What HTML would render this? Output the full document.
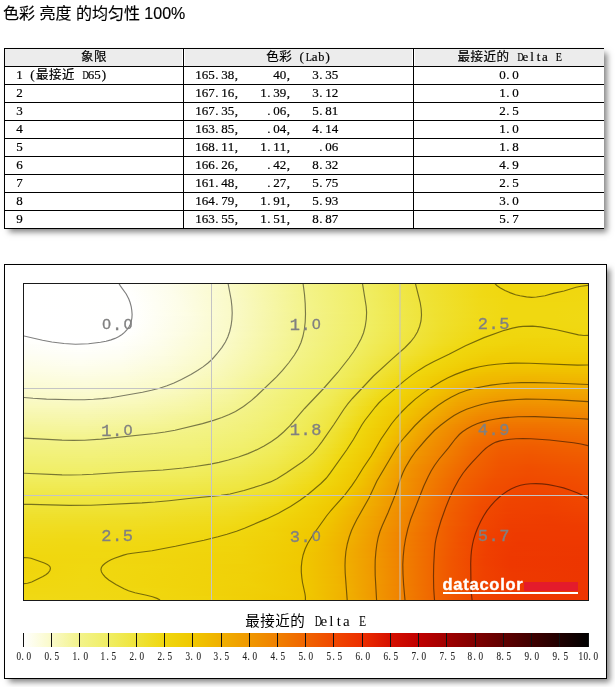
<!DOCTYPE html><html><head><meta charset="utf-8"><title>色彩 亮度 的均匀性 100%</title><style>
*{margin:0;padding:0;box-sizing:border-box}
html,body{width:615px;height:687px;background:#fff;overflow:hidden}
body{position:relative;font-family:"Liberation Sans","Noto Sans CJK SC",sans-serif;color:#000}
.a{position:absolute;white-space:pre}
#title{left:3px;top:3px;font-size:16px;line-height:22px;color:#000;-webkit-text-stroke:0.15px #000}
.hl{position:absolute;height:1px;background:#000}
.vl{position:absolute;width:1px;background:#000}
.hbg{position:absolute;top:49px;height:17px;background:#ececec}
.s{position:absolute;white-space:nowrap;font-family:"Liberation Serif",serif;font-size:13px;line-height:18px;color:#000;-webkit-text-stroke:0.2px #000}
.s i{display:inline-block;font-style:normal;width:6.5px;text-align:center}
.s i.p{text-align:left;text-indent:0.5px}
.s b{display:inline-block;font-weight:normal;width:13px;text-align:center;font-family:"Liberation Sans","Noto Sans CJK SC",sans-serif;font-size:12.5px}
.panel{position:absolute;left:4px;top:264px;width:603px;height:415px;border:1px solid #000;background:#fff;box-shadow:4px 4px 6px -1px rgba(0,0,0,.5)}
.plot{position:absolute;left:23px;top:283px;width:566px;height:318px;border:1px solid #1a1a1a;overflow:hidden;background:#fff}
.plot div{position:absolute;left:0;width:564px}
.ql{position:absolute;font-family:"Liberation Mono",monospace;font-size:17px;line-height:17px;color:#808080;white-space:nowrap;-webkit-text-stroke:0.35px #808080}
.ql i{display:inline-block;font-style:normal;width:10.75px;text-align:center}
.ql i.z{font-family:"Liberation Sans",sans-serif;font-size:15.5px;position:relative;top:-1px}
.cb{position:absolute;top:650px;font-family:"Liberation Serif",serif;font-size:11.5px;line-height:12px;color:#222;white-space:nowrap;-webkit-text-stroke:0.1px #222}
.cb i{display:inline-block;font-style:normal;width:5.2px;text-align:center;transform:scaleX(.8)}
.cb i.p{text-align:left}
.ax{position:absolute;left:245px;top:611px;white-space:nowrap;font-size:15px;line-height:20px;color:#000}
.ax b{display:inline-block;font-weight:normal;width:15px;text-align:center;font-family:"Liberation Sans","Noto Sans CJK SC",sans-serif;font-size:14.5px}
.ax i{display:inline-block;font-style:normal;width:7.5px;text-align:center;font-family:"Liberation Serif",serif;font-size:15px}
</style></head><body>
<div class="a" id="title">色彩 亮度 的均匀性 100%</div>
<div style="position:absolute;left:4px;top:48px;width:600px;height:181px;background:#fff;box-shadow:4px 4px 6px -1px rgba(0,0,0,.5)"></div>
<div class="hbg" style="left:5px;width:177px"></div>
<div class="hbg" style="left:185px;width:227px"></div>
<div class="hbg" style="left:415px;width:189px"></div>
<div class="hl" style="left:4px;top:48px;width:600px"></div>
<div class="hl" style="left:4px;top:66px;width:600px"></div>
<div class="hl" style="left:4px;top:84px;width:600px"></div>
<div class="hl" style="left:4px;top:102px;width:600px"></div>
<div class="hl" style="left:4px;top:120px;width:600px"></div>
<div class="hl" style="left:4px;top:138px;width:600px"></div>
<div class="hl" style="left:4px;top:156px;width:600px"></div>
<div class="hl" style="left:4px;top:174px;width:600px"></div>
<div class="hl" style="left:4px;top:192px;width:600px"></div>
<div class="hl" style="left:4px;top:210px;width:600px"></div>
<div class="hl" style="left:4px;top:228px;width:600px"></div>
<div class="vl" style="left:4px;top:48px;height:181px"></div>
<div class="vl" style="left:183px;top:48px;height:181px"></div>
<div class="vl" style="left:413px;top:48px;height:181px"></div>
<div class="s" style="left:80.80px;top:48px"><b>象</b><b>限</b></div>
<div class="s" style="left:266.00px;top:48px"><b>色</b><b>彩</b><i>&nbsp;</i><i>(</i><i><span style="display:inline-block;transform:scaleX(0.78)">L</span></i><i>a</i><i><span style="display:inline-block;transform:scaleX(0.95)">b</span></i><i>)</i></div>
<div class="s" style="left:457.20px;top:48px"><b>最</b><b>接</b><b>近</b><b>的</b><i>&nbsp;</i><i><span style="display:inline-block;transform:scaleX(0.66)">D</span></i><i>e</i><i>l</i><i>t</i><i>a</i><i>&nbsp;</i><i><span style="display:inline-block;transform:scaleX(0.78)">E</span></i></div>
<div class="s" style="left:16.20px;top:66px"><i>1</i><i>&nbsp;</i><i>(</i><b>最</b><b>接</b><b>近</b><i>&nbsp;</i><i><span style="display:inline-block;transform:scaleX(0.66)">D</span></i><i>6</i><i>5</i><i>)</i></div>
<div class="s" style="left:195.20px;top:66px"><i>1</i><i>6</i><i>5</i><i class="p">.</i><i>3</i><i>8</i><i class="p">,</i></div>
<div class="s" style="left:273.30px;top:66px"><i>4</i><i>0</i><i class="p">,</i></div>
<div class="s" style="left:312.30px;top:66px"><i>3</i><i class="p">.</i><i>3</i><i>5</i></div>
<div class="s" style="left:499.25px;top:66px"><i>0</i><i class="p">.</i><i>0</i></div>
<div class="s" style="left:16.20px;top:84px"><i>2</i></div>
<div class="s" style="left:195.20px;top:84px"><i>1</i><i>6</i><i>7</i><i class="p">.</i><i>1</i><i>6</i><i class="p">,</i></div>
<div class="s" style="left:260.30px;top:84px"><i>1</i><i class="p">.</i><i>3</i><i>9</i><i class="p">,</i></div>
<div class="s" style="left:312.30px;top:84px"><i>3</i><i class="p">.</i><i>1</i><i>2</i></div>
<div class="s" style="left:499.25px;top:84px"><i>1</i><i class="p">.</i><i>0</i></div>
<div class="s" style="left:16.20px;top:102px"><i>3</i></div>
<div class="s" style="left:195.20px;top:102px"><i>1</i><i>6</i><i>7</i><i class="p">.</i><i>3</i><i>5</i><i class="p">,</i></div>
<div class="s" style="left:266.80px;top:102px"><i class="p">.</i><i>0</i><i>6</i><i class="p">,</i></div>
<div class="s" style="left:312.30px;top:102px"><i>5</i><i class="p">.</i><i>8</i><i>1</i></div>
<div class="s" style="left:499.25px;top:102px"><i>2</i><i class="p">.</i><i>5</i></div>
<div class="s" style="left:16.20px;top:120px"><i>4</i></div>
<div class="s" style="left:195.20px;top:120px"><i>1</i><i>6</i><i>3</i><i class="p">.</i><i>8</i><i>5</i><i class="p">,</i></div>
<div class="s" style="left:266.80px;top:120px"><i class="p">.</i><i>0</i><i>4</i><i class="p">,</i></div>
<div class="s" style="left:312.30px;top:120px"><i>4</i><i class="p">.</i><i>1</i><i>4</i></div>
<div class="s" style="left:499.25px;top:120px"><i>1</i><i class="p">.</i><i>0</i></div>
<div class="s" style="left:16.20px;top:138px"><i>5</i></div>
<div class="s" style="left:195.20px;top:138px"><i>1</i><i>6</i><i>8</i><i class="p">.</i><i>1</i><i>1</i><i class="p">,</i></div>
<div class="s" style="left:260.30px;top:138px"><i>1</i><i class="p">.</i><i>1</i><i>1</i><i class="p">,</i></div>
<div class="s" style="left:318.80px;top:138px"><i class="p">.</i><i>0</i><i>6</i></div>
<div class="s" style="left:499.25px;top:138px"><i>1</i><i class="p">.</i><i>8</i></div>
<div class="s" style="left:16.20px;top:156px"><i>6</i></div>
<div class="s" style="left:195.20px;top:156px"><i>1</i><i>6</i><i>6</i><i class="p">.</i><i>2</i><i>6</i><i class="p">,</i></div>
<div class="s" style="left:266.80px;top:156px"><i class="p">.</i><i>4</i><i>2</i><i class="p">,</i></div>
<div class="s" style="left:312.30px;top:156px"><i>8</i><i class="p">.</i><i>3</i><i>2</i></div>
<div class="s" style="left:499.25px;top:156px"><i>4</i><i class="p">.</i><i>9</i></div>
<div class="s" style="left:16.20px;top:174px"><i>7</i></div>
<div class="s" style="left:195.20px;top:174px"><i>1</i><i>6</i><i>1</i><i class="p">.</i><i>4</i><i>8</i><i class="p">,</i></div>
<div class="s" style="left:266.80px;top:174px"><i class="p">.</i><i>2</i><i>7</i><i class="p">,</i></div>
<div class="s" style="left:312.30px;top:174px"><i>5</i><i class="p">.</i><i>7</i><i>5</i></div>
<div class="s" style="left:499.25px;top:174px"><i>2</i><i class="p">.</i><i>5</i></div>
<div class="s" style="left:16.20px;top:192px"><i>8</i></div>
<div class="s" style="left:195.20px;top:192px"><i>1</i><i>6</i><i>4</i><i class="p">.</i><i>7</i><i>9</i><i class="p">,</i></div>
<div class="s" style="left:260.30px;top:192px"><i>1</i><i class="p">.</i><i>9</i><i>1</i><i class="p">,</i></div>
<div class="s" style="left:312.30px;top:192px"><i>5</i><i class="p">.</i><i>9</i><i>3</i></div>
<div class="s" style="left:499.25px;top:192px"><i>3</i><i class="p">.</i><i>0</i></div>
<div class="s" style="left:16.20px;top:210px"><i>9</i></div>
<div class="s" style="left:195.20px;top:210px"><i>1</i><i>6</i><i>3</i><i class="p">.</i><i>5</i><i>5</i><i class="p">,</i></div>
<div class="s" style="left:260.30px;top:210px"><i>1</i><i class="p">.</i><i>5</i><i>1</i><i class="p">,</i></div>
<div class="s" style="left:312.30px;top:210px"><i>8</i><i class="p">.</i><i>8</i><i>7</i></div>
<div class="s" style="left:499.25px;top:210px"><i>5</i><i class="p">.</i><i>7</i></div>
<div class="panel"></div>
<div class="plot">
<div style="top:0px;height:2px;background:linear-gradient(90deg,#ffffff 0px,#fffffe 100px,#fefeef 140px,#fbfbd1 192px,#f6f6a7 246px,#f3f388 284px,#f0ed62 342px,#efe233 402px,#f0d811 462px,#f0d70e 478px,#f0d70e 564px)"></div>
<div style="top:2px;height:2px;background:linear-gradient(90deg,#ffffff 0px,#fffffe 102px,#fdfdee 142px,#fbfbce 196px,#f6f6a5 250px,#f3f388 284px,#f0ed61 342px,#efe234 402px,#f0d812 462px,#f0d70e 480px,#f0d70e 564px)"></div>
<div style="top:4px;height:2px;background:linear-gradient(90deg,#ffffff 0px,#fffffe 102px,#fdfdee 144px,#fafacd 198px,#f6f6a4 252px,#f3f388 284px,#f0ed62 342px,#efe234 402px,#f0d813 460px,#f0d70e 482px,#f0d70f 564px)"></div>
<div style="top:6px;height:2px;background:linear-gradient(90deg,#ffffff 0px,#fffffe 104px,#fdfdec 146px,#fafac8 206px,#f5f59a 262px,#f3f387 284px,#f0ed62 342px,#efe234 402px,#f0d914 460px,#f0d70e 484px,#f0d70f 564px)"></div>
<div style="top:8px;height:2px;background:linear-gradient(90deg,#ffffff 0px,#fffffe 106px,#fdfdeb 148px,#fafac6 208px,#f5f598 266px,#f3f388 284px,#f0ee62 342px,#efe234 402px,#f0d915 458px,#f0d70e 484px,#f0d710 564px)"></div>
<div style="top:10px;height:2px;background:linear-gradient(90deg,#ffffff 0px,#fffffe 106px,#fdfdeb 150px,#fafac5 210px,#f4f496 268px,#f3f388 284px,#f0ed62 344px,#efe234 404px,#f0d915 458px,#f0d70f 484px,#f0d710 550px,#f0d810 564px)"></div>
<div style="top:12px;height:2px;background:linear-gradient(90deg,#ffffff 0px,#fffffe 108px,#fdfdea 152px,#fafac4 212px,#f4f494 270px,#f3f387 286px,#f0ed62 344px,#efe234 404px,#f0d916 456px,#f0d70f 484px,#f0d70f 538px,#f0d811 564px)"></div>
<div style="top:14px;height:2px;background:linear-gradient(90deg,#ffffff 0px,#fffffe 108px,#fdfde9 154px,#f9f9c3 214px,#f4f493 272px,#f3f387 286px,#f0ed61 344px,#efe234 404px,#f0da17 456px,#f0d710 484px,#f0d70f 536px,#f0d811 564px)"></div>
<div style="top:16px;height:2px;background:linear-gradient(90deg,#ffffff 0px,#fffffe 108px,#fdfde9 154px,#f9f9c3 214px,#f4f492 272px,#f3f387 286px,#f0ed62 344px,#efe234 404px,#f0da18 456px,#f0d810 484px,#f0d710 532px,#f0d811 564px)"></div>
<div style="top:18px;height:2px;background:linear-gradient(90deg,#ffffff 0px,#fffffe 110px,#fdfde8 156px,#f9f9c2 216px,#f4f491 274px,#f3f386 288px,#f0ed61 346px,#efe234 406px,#f0da19 454px,#f0d810 484px,#f0d810 530px,#f0d812 564px)"></div>
<div style="top:20px;height:2px;background:linear-gradient(90deg,#ffffff 0px,#fffffe 110px,#fdfde8 156px,#f9f9c2 216px,#f4f490 274px,#f3f386 288px,#f0ed61 346px,#efe233 406px,#f0da19 454px,#f0d811 484px,#f0d810 530px,#f0d812 564px)"></div>
<div style="top:22px;height:2px;background:linear-gradient(90deg,#ffffff 0px,#fffffe 110px,#fdfde7 158px,#f9f9c2 216px,#f4f490 274px,#f3f387 288px,#f0ed61 346px,#efe234 406px,#f0da1a 454px,#f0d811 484px,#f0d810 528px,#f0d813 564px)"></div>
<div style="top:24px;height:2px;background:linear-gradient(90deg,#ffffff 0px,#fffffe 110px,#fdfde6 160px,#f9f9c2 216px,#f4f48f 276px,#f3f284 292px,#f0ed60 348px,#efe233 408px,#f0da1a 454px,#f0d811 484px,#f0d811 528px,#f0d813 564px)"></div>
<div style="top:26px;height:2px;background:linear-gradient(90deg,#ffffff 0px,#fffffe 110px,#fdfde5 160px,#f9f9c2 216px,#f4f48f 276px,#f3f284 292px,#f0ed60 348px,#efe232 408px,#f0db1a 454px,#f0d811 486px,#f0d811 530px,#f0d913 564px)"></div>
<div style="top:28px;height:2px;background:linear-gradient(90deg,#ffffff 0px,#fffffe 110px,#fdfde5 162px,#f9f9c2 216px,#f3f38e 278px,#f2f178 312px,#f0ec5a 356px,#efe130 412px,#f0da19 456px,#f0d811 488px,#f0d811 532px,#f0d913 564px)"></div>
<div style="top:30px;height:2px;background:linear-gradient(90deg,#ffffff 0px,#fffffe 110px,#fdfde4 164px,#f9f9c2 216px,#f3f38e 278px,#f0ed5f 348px,#efe131 410px,#f0db1a 454px,#f0d811 486px,#f0d811 530px,#f0d914 564px)"></div>
<div style="top:32px;height:2px;background:linear-gradient(90deg,#ffffff 0px,#fffffe 110px,#fcfce2 166px,#f9f9c2 216px,#f3f38d 278px,#f0ed60 348px,#efe130 412px,#f0db1a 454px,#f0d811 486px,#f0d811 530px,#f0d914 564px)"></div>
<div style="top:34px;height:2px;background:linear-gradient(90deg,#ffffff 0px,#fffffe 110px,#fcfce1 168px,#f9f9c1 216px,#f3f38d 278px,#f0ed60 348px,#efe12f 414px,#f0da19 454px,#f0d811 488px,#f0d811 532px,#f0d914 564px)"></div>
<div style="top:36px;height:2px;background:linear-gradient(90deg,#ffffff 0px,#fffffe 110px,#fcfce0 170px,#f9f9c1 216px,#f3f38c 280px,#f0ed61 346px,#efe02e 414px,#f0da19 454px,#f0d810 488px,#f0d811 534px,#f0d913 564px)"></div>
<div style="top:38px;height:2px;background:linear-gradient(90deg,#ffffff 0px,#fffffe 110px,#fcfcdf 170px,#f9f9c1 216px,#f3f388 286px,#f0ee63 344px,#efe02d 416px,#f0da18 456px,#f0d810 490px,#f0d811 536px,#f0d813 564px)"></div>
<div style="top:40px;height:2px;background:linear-gradient(90deg,#ffffff 0px,#fffffe 108px,#fcfce0 168px,#f9f9c2 216px,#f3f38b 280px,#f0ed62 344px,#efe02c 416px,#f0da17 456px,#f0d70f 490px,#f0d810 536px,#f0d813 564px)"></div>
<div style="top:42px;height:2px;background:linear-gradient(90deg,#ffffff 0px,#fffffe 108px,#fcfce0 168px,#f9f9c2 214px,#f3f38b 280px,#f0ee62 344px,#efdf2b 418px,#f0d916 456px,#f0d70e 490px,#f0d810 538px,#f0d812 564px)"></div>
<div style="top:44px;height:2px;background:linear-gradient(90deg,#ffffff 0px,#fffffe 106px,#fcfce0 166px,#f9f9c3 214px,#f3f38b 280px,#f0ee63 342px,#efdf2a 418px,#f0d916 456px,#f0d70e 488px,#f0d710 542px,#f0d811 564px)"></div>
<div style="top:46px;height:2px;background:linear-gradient(90deg,#ffffff 0px,#fffffe 106px,#fcfce1 164px,#f9f9c3 212px,#f3f38b 278px,#f0ee62 342px,#efdf28 418px,#f0d914 456px,#f0d70e 484px,#f0d70f 546px,#f0d811 564px)"></div>
<div style="top:48px;height:2px;background:linear-gradient(90deg,#ffffff 0px,#fffffe 104px,#fdfde4 158px,#fafac4 210px,#f3f38c 278px,#f0ed62 342px,#efde27 418px,#f0d813 456px,#f0d60e 480px,#f0d70f 550px,#f0d710 564px)"></div>
<div style="top:50px;height:2px;background:linear-gradient(90deg,#ffffff 0px,#fffffe 102px,#fdfde7 152px,#fafac4 210px,#f3f38c 278px,#f0ed62 342px,#efde26 418px,#f0d812 456px,#f0d60d 476px,#f0d70e 548px,#f0d70e 564px)"></div>
<div style="top:52px;height:2px;background:linear-gradient(90deg,#ffffff 0px,#fffffe 98px,#fdfdeb 142px,#fafac5 208px,#f3f38c 276px,#f0ed62 340px,#efde26 418px,#f0d810 456px,#f0d60d 474px,#f0d60d 544px,#f0d70e 564px)"></div>
<div style="top:54px;height:2px;background:linear-gradient(90deg,#fffffd 0px,#ffffff 42px,#fffffe 96px,#fdfdee 134px,#fafac7 204px,#f3f38d 274px,#f0ed61 340px,#efde24 418px,#f0d70e 456px,#f0d40b 510px,#f0d60d 564px)"></div>
<div style="top:56px;height:2px;background:linear-gradient(90deg,#fffffc 0px,#ffffff 36px,#fffffe 92px,#fefef1 126px,#fafac8 202px,#f4f490 270px,#f3f286 284px,#f0ee63 338px,#f0dd23 416px,#f0d70e 452px,#f0d30b 506px,#f0d50c 564px)"></div>
<div style="top:58px;height:2px;background:linear-gradient(90deg,#fffffb 0px,#ffffff 48px,#fffffd 88px,#fefef2 122px,#fafacb 196px,#f6f6a4 246px,#f3f387 282px,#f0ee64 336px,#f0dd22 416px,#f0d70e 448px,#f0d30a 500px,#f0d40c 564px)"></div>
<div style="top:60px;height:2px;background:linear-gradient(90deg,#fefef9 0px,#fffffe 54px,#fffffa 96px,#fdfdeb 136px,#fafac7 202px,#f4f48f 270px,#f2f281 292px,#f0ed60 338px,#f0dd21 414px,#f0d70e 446px,#f0d209 496px,#f0d40b 564px)"></div>
<div style="top:62px;height:2px;background:linear-gradient(90deg,#fefef8 0px,#fffffd 54px,#fefef9 96px,#fdfde9 136px,#fafac6 202px,#f4f490 268px,#f3f284 286px,#f0ee62 334px,#f0dc1f 414px,#f0d60e 442px,#f0d108 490px,#f0d30a 564px)"></div>
<div style="top:64px;height:2px;background:linear-gradient(90deg,#fefef7 0px,#fffffc 56px,#fefef8 96px,#fdfde8 136px,#fafac6 200px,#f4f493 264px,#f3f386 280px,#f0ee64 332px,#f0dc1e 412px,#f0d60d 438px,#f0d008 484px,#f0d209 564px)"></div>
<div style="top:66px;height:2px;background:linear-gradient(90deg,#fefef5 0px,#fffffa 56px,#fefef6 96px,#fdfde6 138px,#fafac6 198px,#f4f495 260px,#f3f387 278px,#f0ee65 328px,#f0db1b 412px,#f0d60d 434px,#f0d007 480px,#f0d108 564px)"></div>
<div style="top:68px;height:2px;background:linear-gradient(90deg,#fefef4 0px,#fefef9 56px,#fefef5 96px,#fdfde5 138px,#fafac5 198px,#f5f597 256px,#f3f387 276px,#f0ee66 326px,#f0da1a 412px,#f0d60d 430px,#f0cf06 474px,#f0cf07 564px)"></div>
<div style="top:70px;height:2px;background:linear-gradient(90deg,#fefef2 0px,#fefef7 56px,#fefef3 96px,#fdfde4 138px,#fafac5 196px,#f5f598 254px,#f3f387 276px,#f0ee67 324px,#f0da17 412px,#f0d60d 426px,#f0ce06 470px,#f0ce06 552px,#f0ce06 564px)"></div>
<div style="top:72px;height:2px;background:linear-gradient(90deg,#fefef0 0px,#fefef6 56px,#fefef2 96px,#fcfce2 138px,#fafac4 196px,#f5f598 252px,#f3f388 274px,#f0ef68 320px,#f0dd23 394px,#f0d70e 420px,#f0cd05 466px,#f0cd04 536px,#f0cd05 564px)"></div>
<div style="top:74px;height:2px;background:linear-gradient(90deg,#fefeef 0px,#fefef4 56px,#fefef0 96px,#fcfce0 140px,#fafac4 194px,#f5f59a 250px,#f3f387 272px,#f0ef69 318px,#efdf2a 384px,#f0d70e 416px,#f0cc04 464px,#f0cb03 530px,#f0cc04 564px)"></div>
<div style="top:76px;height:2px;background:linear-gradient(90deg,#fdfded 0px,#fefef2 56px,#fdfdee 96px,#fcfcde 142px,#f9f9c3 194px,#f5f59a 248px,#f3f388 270px,#f0ef6a 316px,#efe53f 360px,#f0d810 408px,#f0d30a 426px,#f0cb02 466px,#f0ca02 542px,#f0cb02 564px)"></div>
<div style="top:78px;height:2px;background:linear-gradient(90deg,#fdfdeb 0px,#fefef1 56px,#fdfdec 96px,#fcfcdd 142px,#f9f9c3 192px,#f5f59b 246px,#f3f387 270px,#f0ef6a 314px,#efe642 356px,#f0d70f 406px,#f0ca02 458px,#f0c800 514px,#f0c901 564px)"></div>
<div style="top:80px;height:2px;background:linear-gradient(90deg,#fdfdea 0px,#fefeef 56px,#fdfdea 96px,#fcfcdb 142px,#f9f9c1 192px,#f5f59b 244px,#f3f387 268px,#f0ef6a 312px,#efe849 346px,#f0d70e 404px,#f0c901 456px,#f0c600 504px,#f0c800 564px)"></div>
<div style="top:82px;height:2px;background:linear-gradient(90deg,#fdfde8 0px,#fdfded 58px,#fdfde8 98px,#fbfbd8 144px,#f9f9c0 192px,#f5f59c 240px,#f3f387 266px,#f0ef6a 310px,#efe94e 340px,#f0d70e 400px,#f0c800 456px,#f0c400 496px,#f0c600 564px)"></div>
<div style="top:84px;height:2px;background:linear-gradient(90deg,#fdfde6 0px,#fdfdeb 58px,#fdfde6 98px,#fbfbd6 146px,#f9f9bf 190px,#f5f59d 238px,#f3f387 264px,#f0ef6a 310px,#efe84d 340px,#f0d70e 398px,#f0c700 450px,#f0c200 490px,#f0c300 564px)"></div>
<div style="top:86px;height:2px;background:linear-gradient(90deg,#fdfde4 0px,#fdfde9 58px,#fdfde4 98px,#fbfbd5 146px,#f9f9be 190px,#f5f59d 236px,#f3f387 264px,#f0ef69 308px,#efe84c 338px,#f0d70e 394px,#f0c700 444px,#f0c000 480px,#f0c100 564px)"></div>
<div style="top:88px;height:2px;background:linear-gradient(90deg,#fcfce2 0px,#fdfde7 58px,#fcfce2 100px,#fbfbd2 146px,#f9f9bc 190px,#f5f59d 234px,#f3f387 262px,#f0ef6a 306px,#efe94e 334px,#f0d70e 392px,#f0c600 438px,#f0be00 470px,#f0bd00 520px,#f0bf00 564px)"></div>
<div style="top:90px;height:2px;background:linear-gradient(90deg,#fcfce0 0px,#fdfde5 58px,#fcfce0 100px,#fbfbd0 148px,#f8f8b9 194px,#f5f599 236px,#f3f387 260px,#f0ef6a 304px,#f0e950 332px,#f0d70e 388px,#f0c600 434px,#f0bd00 464px,#f0ba00 508px,#f0bc00 564px)"></div>
<div style="top:92px;height:2px;background:linear-gradient(90deg,#fcfcde 0px,#fcfce3 60px,#fcfcdd 100px,#fbfbcf 148px,#f8f8b5 196px,#f4f495 240px,#f3f387 258px,#f0ef69 304px,#efe94e 332px,#f0d60e 386px,#f0c600 428px,#f0bc00 458px,#f0b700 500px,#f0ba00 564px)"></div>
<div style="top:94px;height:2px;background:linear-gradient(90deg,#fcfcdc 0px,#fcfce0 60px,#fcfcdb 102px,#fafacc 148px,#f8f8b2 198px,#f4f492 240px,#f3f387 256px,#f0ef69 302px,#efe84d 330px,#f0d70e 384px,#f0c600 424px,#f0bb00 454px,#f0b500 496px,#f0b700 564px)"></div>
<div style="top:96px;height:2px;background:linear-gradient(90deg,#fcfcda 0px,#fcfcde 60px,#fcfcd9 102px,#fafaca 150px,#f7f7ae 202px,#f3f38e 244px,#f0ef68 302px,#efe84b 330px,#f0d60d 382px,#f0c600 422px,#f0b900 450px,#f0b200 494px,#f0b500 564px)"></div>
<div style="top:98px;height:2px;background:linear-gradient(90deg,#fbfbd8 0px,#fcfcdc 62px,#fbfbd6 104px,#fafac8 150px,#f7f7ab 204px,#f3f387 252px,#f0ef69 298px,#efe94e 326px,#f0d70e 378px,#f0c600 418px,#f0b800 446px,#f0b000 488px,#f0b200 564px)"></div>
<div style="top:100px;height:2px;background:linear-gradient(90deg,#fbfbd6 0px,#fcfcda 62px,#fbfbd3 106px,#fafac7 148px,#f7f7aa 204px,#f3f38b 242px,#f1ef6b 294px,#f0ea55 318px,#efe130 348px,#f0d60e 376px,#f0c600 414px,#f0b600 444px,#f0ad00 486px,#f0ae00 548px,#f0af00 564px)"></div>
<div style="top:102px;height:2px;background:linear-gradient(90deg,#fbfbd4 0px,#fbfbd7 64px,#fbfbd1 108px,#fafac5 148px,#f6f6a8 202px,#f3f38d 238px,#f0ef68 296px,#f0e950 320px,#efe02c 350px,#f0d70e 374px,#f0c600 410px,#f0b500 442px,#f0ab00 482px,#f0ab00 538px,#f0ad00 564px)"></div>
<div style="top:104px;height:2px;background:linear-gradient(90deg,#fbfbd2 0px,#fbfbd5 64px,#fbfbce 108px,#f9f9c3 146px,#f6f6a6 202px,#f3f38c 238px,#f0ef6a 292px,#f0ea55 314px,#efe130 344px,#f0d70e 372px,#f0c600 408px,#f0b300 440px,#f0a800 480px,#f0a800 532px,#f0aa00 564px)"></div>
<div style="top:106px;height:2px;background:linear-gradient(90deg,#fbfbd0 0px,#fbfbd3 64px,#fafacb 110px,#f9f9c0 148px,#f6f6a4 204px,#f3f387 244px,#f0ef69 290px,#f0ea54 314px,#efe12f 344px,#f0d70e 368px,#f0c600 404px,#f0b100 440px,#f0a600 478px,#f0a400 524px,#f0a700 564px)"></div>
<div style="top:108px;height:2px;background:linear-gradient(90deg,#fafacd 0px,#fbfbd0 66px,#fafac8 114px,#f9f9bb 154px,#f6f6a1 206px,#f3f387 242px,#f0ef69 288px,#f0ea54 312px,#efe12f 342px,#f0d70e 366px,#f0c600 402px,#f0af00 438px,#f0a300 476px,#f0a100 520px,#f0a400 564px)"></div>
<div style="top:110px;height:2px;background:linear-gradient(90deg,#fafacb 0px,#fbfbce 66px,#fafac6 112px,#f8f8b9 154px,#f5f59e 206px,#f3f386 240px,#f0ef69 286px,#f0ea54 310px,#efe12f 340px,#f0d70e 364px,#f0c600 400px,#f0ad00 438px,#f0a100 474px,#f09e00 514px,#f0a100 564px)"></div>
<div style="top:112px;height:2px;background:linear-gradient(90deg,#fafac9 0px,#fafacb 68px,#f9f9c4 110px,#f8f8b7 152px,#f5f59d 206px,#f3f286 240px,#f0ef68 286px,#f0ea54 308px,#efe12f 338px,#f0d70e 362px,#f0c600 396px,#f0ab00 436px,#f09f00 472px,#f09b00 510px,#f09f00 564px)"></div>
<div style="top:114px;height:2px;background:linear-gradient(90deg,#fafac6 0px,#fafac9 64px,#f9f9c2 106px,#f8f8b4 152px,#f5f59b 206px,#f3f285 238px,#f0ef68 284px,#f0ea53 308px,#efe02e 336px,#f0d70e 360px,#f0c600 394px,#f0a900 436px,#f09c00 470px,#f09800 506px,#f09c00 564px)"></div>
<div style="top:116px;height:2px;background:linear-gradient(90deg,#f9f9c3 0px,#fafac6 64px,#f9f9be 110px,#f7f7b1 154px,#f5f598 206px,#f3f285 236px,#f0ef69 280px,#f0ea53 306px,#efe131 332px,#f0d70e 358px,#f0c600 392px,#f0a700 434px,#f09a00 468px,#f09500 504px,#f09900 564px)"></div>
<div style="top:118px;height:2px;background:linear-gradient(90deg,#f9f9c0 0px,#f9f9c3 64px,#f9f9bb 112px,#f7f7ad 156px,#f4f495 208px,#f3f284 236px,#f0ef6a 278px,#f0ea54 304px,#efe234 328px,#f0d70e 356px,#f0c600 390px,#f0a400 434px,#f09700 468px,#f09300 504px,#f09600 564px)"></div>
<div style="top:120px;height:2px;background:linear-gradient(90deg,#f9f9be 0px,#f9f9c0 64px,#f8f8b8 112px,#f7f7ab 156px,#f4f493 208px,#f2f283 236px,#f0ef69 276px,#f0ea52 304px,#efe234 328px,#f0d70e 354px,#f0c600 388px,#f0a300 434px,#f09400 466px,#f09000 502px,#f09300 564px)"></div>
<div style="top:122px;height:2px;background:linear-gradient(90deg,#f9f9bb 0px,#f9f9bd 64px,#f8f8b5 114px,#f6f6a7 160px,#f4f490 210px,#f1f070 266px,#f0eb56 298px,#efe43b 320px,#f0d60d 352px,#f0c600 386px,#f0a000 434px,#f09200 466px,#f08d00 502px,#f09000 564px)"></div>
<div style="top:124px;height:2px;background:linear-gradient(90deg,#f8f8b8 0px,#f8f8ba 64px,#f7f7b1 118px,#f6f6a3 164px,#f3f38d 212px,#f1f073 260px,#f0eb58 294px,#efe53f 316px,#f0d70e 350px,#f0c600 382px,#f09e00 434px,#f08f00 464px,#f08a00 500px,#f08d00 564px)"></div>
<div style="top:126px;height:2px;background:linear-gradient(90deg,#f8f8b5 0px,#f8f8b7 62px,#f7f7af 116px,#f6f6a1 162px,#f3f38b 210px,#f1f075 254px,#f0ec5a 290px,#efe642 312px,#f0d70e 348px,#f0c600 380px,#f09c00 432px,#f08d00 462px,#f08800 496px,#f08b00 564px)"></div>
<div style="top:128px;height:2px;background:linear-gradient(90deg,#f7f7b2 0px,#f8f8b4 62px,#f7f7ab 120px,#f5f59c 168px,#f2f179 244px,#f0ed60 282px,#efe748 306px,#efdf2b 328px,#f0d60e 348px,#f0c600 380px,#f09900 432px,#f08b00 460px,#f08500 494px,#f08800 564px)"></div>
<div style="top:130px;height:2px;background:linear-gradient(90deg,#f7f7af 0px,#f7f7b1 62px,#f6f6a7 124px,#f4f496 176px,#f2f179 242px,#f0ed61 278px,#efe747 306px,#efe02c 326px,#f0d70e 346px,#f0c600 378px,#f09800 432px,#f08900 458px,#f08200 490px,#f08500 562px,#f08500 564px)"></div>
<div style="top:132px;height:2px;background:linear-gradient(90deg,#f7f7ac 0px,#f7f7af 62px,#f6f6a4 124px,#f4f493 176px,#f2f17a 238px,#f0ee63 274px,#efe748 304px,#efe12e 322px,#f0d60d 344px,#f0c600 376px,#f09600 430px,#f08700 456px,#f08000 488px,#f08200 548px,#f08300 564px)"></div>
<div style="top:134px;height:2px;background:linear-gradient(90deg,#f6f6a9 0px,#f7f7ab 62px,#f6f6a1 126px,#f3f38e 184px,#f2f17b 234px,#f0ee64 272px,#efe749 302px,#efe131 320px,#f0d70e 342px,#f0c600 374px,#f09400 430px,#f08500 456px,#f07d00 490px,#f07f00 548px,#f08000 564px)"></div>
<div style="top:136px;height:2px;background:linear-gradient(90deg,#f6f6a6 0px,#f6f6a8 62px,#f5f59d 130px,#f2f17d 228px,#f0ef68 264px,#efe84c 296px,#efe335 316px,#f0d60e 342px,#f0c500 372px,#f09400 428px,#f08300 454px,#f07b00 484px,#f07b00 530px,#f07e00 564px)"></div>
<div style="top:138px;height:2px;background:linear-gradient(90deg,#f6f6a2 0px,#f6f6a5 62px,#f5f599 134px,#f2f17c 226px,#f0ee67 264px,#efe84c 296px,#efe235 314px,#f0d70e 340px,#f0c600 370px,#f09300 426px,#f08200 452px,#f07800 480px,#f07700 520px,#f07b00 564px)"></div>
<div style="top:140px;height:2px;background:linear-gradient(90deg,#f5f59f 0px,#f6f6a2 62px,#f4f495 138px,#f3f284 198px,#f1f075 238px,#f0ed60 272px,#efe745 300px,#efe12e 318px,#f0d70e 338px,#f0c600 368px,#f09300 422px,#f08000 450px,#f07600 476px,#f07400 512px,#f07900 564px)"></div>
<div style="top:142px;height:2px;background:linear-gradient(90deg,#f5f59c 0px,#f5f59f 60px,#f4f492 140px,#f3f284 194px,#f1f076 234px,#f0ed62 268px,#efe747 298px,#efe12f 316px,#f0d70e 338px,#f0c600 368px,#f09300 420px,#f07e00 450px,#f07400 474px,#f07200 510px,#f07600 564px)"></div>
<div style="top:144px;height:2px;background:linear-gradient(90deg,#f5f599 0px,#f5f59c 60px,#f3f38e 144px,#f2f17b 218px,#f0ef69 256px,#f0e950 286px,#efe338 308px,#f0d60d 336px,#f0c500 366px,#f09300 418px,#f07b00 450px,#f07100 474px,#f06f00 510px,#f07400 564px)"></div>
<div style="top:146px;height:2px;background:linear-gradient(90deg,#f4f496 0px,#f5f599 60px,#f3f388 158px,#f2f17a 216px,#f0ef68 254px,#f0e951 284px,#efe439 306px,#f0d60d 336px,#f0c600 364px,#f09200 416px,#f07900 450px,#f06f00 476px,#f06d00 512px,#f07200 564px)"></div>
<div style="top:148px;height:2px;background:linear-gradient(90deg,#f4f492 0px,#f4f496 60px,#f2f27f 192px,#f1f071 234px,#f0ed5f 266px,#efe746 294px,#efe02e 312px,#f0d70e 334px,#f0c600 364px,#f09200 414px,#f07600 452px,#f06c00 476px,#f06a00 512px,#f07000 564px)"></div>
<div style="top:150px;height:2px;background:linear-gradient(90deg,#f4f48f 0px,#f4f492 60px,#f2f27f 184px,#f1f072 228px,#f0ed60 262px,#efe747 292px,#efe12f 310px,#f0d70e 332px,#f0c600 362px,#f09300 412px,#f07500 450px,#f06a00 476px,#f06800 510px,#f06e00 564px)"></div>
<div style="top:152px;height:2px;background:linear-gradient(90deg,#f3f38c 0px,#f4f48f 60px,#f2f27f 176px,#f1f073 224px,#f0ed62 258px,#efe748 288px,#efe130 308px,#f0d70e 332px,#f0c600 360px,#f09300 410px,#f07300 450px,#f06800 476px,#f06600 510px,#f06c00 564px)"></div>
<div style="top:154px;height:2px;background:linear-gradient(90deg,#f3f389 0px,#f3f38c 62px,#f2f27f 168px,#f1f073 218px,#f0ed62 254px,#efe849 286px,#efe232 306px,#f0d70e 330px,#f0c600 360px,#f09500 406px,#f07100 450px,#f06600 476px,#f06400 510px,#f06a00 564px)"></div>
<div style="top:156px;height:2px;background:linear-gradient(90deg,#f3f387 0px,#f3f389 70px,#f2f17d 168px,#f1f071 218px,#f0ed61 254px,#efe747 286px,#efe130 306px,#f0d60d 330px,#f0c600 358px,#f09600 402px,#f07000 450px,#f06400 476px,#f06200 510px,#f06800 564px)"></div>
<div style="top:158px;height:2px;background:linear-gradient(90deg,#f3f285 0px,#f3f387 68px,#f2f17c 168px,#f1f06f 218px,#f0ed60 252px,#efe746 286px,#efe131 304px,#f0d70e 328px,#f0c600 356px,#f09800 398px,#f06e00 450px,#f06200 476px,#f06000 508px,#f06600 564px)"></div>
<div style="top:160px;height:2px;background:linear-gradient(90deg,#f2f283 0px,#f3f285 68px,#f2f17a 170px,#f1ef6d 220px,#f0ed5e 252px,#efe746 284px,#efe131 302px,#f0d70e 326px,#f0c600 356px,#f09900 396px,#f06d00 450px,#f06100 476px,#f05e00 508px,#f06400 564px)"></div>
<div style="top:162px;height:2px;background:linear-gradient(90deg,#f2f281 0px,#f2f283 68px,#f2f178 170px,#f1ef6c 220px,#f0ec5d 250px,#efe644 284px,#efe130 302px,#f0d70e 326px,#f0c700 354px,#f09900 394px,#f06b00 450px,#f05f00 476px,#f05c00 508px,#f06300 564px)"></div>
<div style="top:164px;height:2px;background:linear-gradient(90deg,#f2f27f 0px,#f2f281 68px,#f1f076 172px,#f0ef69 220px,#f0ec5b 252px,#efe641 286px,#efe02d 302px,#f0d60d 324px,#f0c700 352px,#f09800 394px,#f06a00 450px,#f05e00 476px,#f05b00 506px,#f06100 564px)"></div>
<div style="top:166px;height:2px;background:linear-gradient(90deg,#f2f17d 0px,#f2f17e 68px,#f1f074 172px,#f0ee68 220px,#f0eb58 252px,#efe53f 286px,#efdf2b 302px,#f0d70e 322px,#f0c700 352px,#f09700 392px,#f06900 450px,#f05c00 476px,#f05900 508px,#f06000 564px)"></div>
<div style="top:168px;height:2px;background:linear-gradient(90deg,#f2f17b 0px,#f2f17c 68px,#f1f072 172px,#f0ee66 220px,#f0eb55 254px,#efe53c 286px,#efde24 306px,#f0d70e 322px,#f0c600 350px,#f09700 392px,#f06800 450px,#f05b00 476px,#f05800 506px,#f05e00 564px)"></div>
<div style="top:170px;height:2px;background:linear-gradient(90deg,#f2f178 0px,#f2f17a 68px,#f1f070 172px,#f0ee64 220px,#f0ea53 254px,#efe43a 286px,#f0dc21 306px,#f0d60d 320px,#f0c600 350px,#f09600 392px,#f06700 450px,#f05a00 476px,#f05600 506px,#f05d00 564px)"></div>
<div style="top:172px;height:2px;background:linear-gradient(90deg,#f1f076 0px,#f2f178 66px,#f1ef6e 172px,#f0ee63 218px,#f0ea52 252px,#efe439 286px,#f0dc20 306px,#f0d70e 318px,#f0c600 348px,#f09500 390px,#f06700 448px,#f05900 476px,#f05500 506px,#f05b00 562px,#f05c00 564px)"></div>
<div style="top:174px;height:2px;background:linear-gradient(90deg,#f1f074 0px,#f1f076 66px,#f1ef6c 172px,#f0ed61 216px,#f0e951 252px,#efe337 286px,#f0dc1e 306px,#f0d60d 318px,#f0c600 348px,#f09500 390px,#f06600 448px,#f05800 476px,#f05400 506px,#f05a00 562px,#f05a00 564px)"></div>
<div style="top:176px;height:2px;background:linear-gradient(90deg,#f1f072 0px,#f1f074 66px,#f0ef6a 172px,#f0ed60 214px,#f0e94f 250px,#efe336 284px,#f0db1d 304px,#f0d70e 316px,#f0c600 346px,#f09400 390px,#f06500 448px,#f05600 476px,#f05300 506px,#f05900 562px,#f05900 564px)"></div>
<div style="top:178px;height:2px;background:linear-gradient(90deg,#f1f070 0px,#f1f071 66px,#f0ee68 172px,#f0ec5e 214px,#efe94e 250px,#efe233 284px,#f0db1b 304px,#f0d60e 314px,#f0c600 344px,#f09300 390px,#f06500 446px,#f05500 476px,#f05200 506px,#f05700 560px,#f05800 564px)"></div>
<div style="top:180px;height:2px;background:linear-gradient(90deg,#f1ef6e 0px,#f1ef6f 66px,#f0ee66 170px,#f0ec5b 214px,#efe84b 250px,#efe131 284px,#f0da19 304px,#f0d70e 312px,#f0c700 342px,#f09200 388px,#f06400 446px,#f05500 476px,#f05000 504px,#f05500 556px,#f05700 564px)"></div>
<div style="top:182px;height:2px;background:linear-gradient(90deg,#f1ef6b 0px,#f1ef6d 66px,#f0ee64 170px,#f0eb58 216px,#efe748 252px,#efe12e 284px,#f0da17 304px,#f0d70e 312px,#f0c600 342px,#f09100 388px,#f06300 446px,#f05400 476px,#f04f00 504px,#f05400 556px,#f05600 564px)"></div>
<div style="top:184px;height:2px;background:linear-gradient(90deg,#f0ef69 0px,#f1ef6a 66px,#f0ed62 166px,#f0eb56 214px,#efe746 250px,#efe02d 284px,#f0d916 304px,#f0d60d 310px,#f0c700 340px,#f09000 388px,#f06300 444px,#f05300 476px,#f04e00 506px,#f05300 556px,#f05500 564px)"></div>
<div style="top:186px;height:2px;background:linear-gradient(90deg,#f0ee67 0px,#f0ef68 66px,#f0ed5f 166px,#f0ea54 214px,#efe644 250px,#efdf2b 284px,#f0d812 304px,#f0d60d 310px,#f0c700 338px,#f08f00 388px,#f06200 444px,#f05200 474px,#f04d00 504px,#f05200 554px,#f05400 564px)"></div>
<div style="top:188px;height:2px;background:linear-gradient(90deg,#f0ee64 0px,#f0ee66 66px,#f0ec5c 166px,#f0ea52 214px,#efe642 250px,#efde27 284px,#f0d60d 308px,#f0c600 338px,#f08f00 388px,#f06100 444px,#f05200 474px,#f04d00 504px,#f05100 554px,#f05300 564px)"></div>
<div style="top:190px;height:2px;background:linear-gradient(90deg,#f0ed62 0px,#f0ee63 64px,#f0ec5a 168px,#efe94f 216px,#efe53f 252px,#f0dd24 286px,#f0d60d 306px,#f0c600 336px,#f08f00 388px,#f06100 442px,#f05100 474px,#f04c00 504px,#f05000 552px,#f05200 564px)"></div>
<div style="top:192px;height:2px;background:linear-gradient(90deg,#f0ed5f 0px,#f0ed61 64px,#f0eb57 168px,#efe84c 216px,#efe53d 252px,#f0dc21 286px,#f0d60d 304px,#f0c600 336px,#f08e00 388px,#f06000 442px,#f05100 472px,#f04b00 502px,#f04e00 550px,#f05100 564px)"></div>
<div style="top:194px;height:2px;background:linear-gradient(90deg,#f0ec5c 0px,#f0ed5e 64px,#f0ea54 168px,#efe84a 216px,#efe43b 252px,#f0dc1e 286px,#f0d60d 304px,#f0c600 334px,#f08c00 388px,#f06000 440px,#f05000 470px,#f04a00 500px,#f04d00 548px,#f05000 564px)"></div>
<div style="top:196px;height:2px;background:linear-gradient(90deg,#f0ec5a 0px,#f0ec5b 64px,#f0ea52 166px,#efe748 214px,#efe338 252px,#f0db1c 286px,#f0d60d 302px,#f0c700 332px,#f08b00 388px,#f06000 440px,#f05000 470px,#f04900 500px,#f04c00 546px,#f04f00 564px)"></div>
<div style="top:198px;height:2px;background:linear-gradient(90deg,#f0eb57 0px,#f0eb58 64px,#efe94f 166px,#efe745 214px,#efe336 252px,#f0db1a 286px,#f0d60d 300px,#f0c600 332px,#f08a00 390px,#f06000 438px,#f05000 468px,#f04900 498px,#f04b00 544px,#f04e00 564px)"></div>
<div style="top:200px;height:2px;background:linear-gradient(90deg,#f0ea54 0px,#f0eb56 66px,#efe84c 166px,#efe643 214px,#efe234 250px,#f0da19 284px,#f0d60d 298px,#f0c700 330px,#f08700 392px,#f05f00 438px,#f04f00 468px,#f04800 498px,#f04a00 544px,#f04d00 564px)"></div>
<div style="top:202px;height:2px;background:linear-gradient(90deg,#f0ea51 0px,#f0ea53 66px,#efe849 166px,#efe641 214px,#efe131 250px,#f0da17 284px,#f0d60d 294px,#f0c700 328px,#f08500 394px,#f05f00 438px,#f04f00 466px,#f04700 496px,#f04900 542px,#f04c00 564px)"></div>
<div style="top:204px;height:2px;background:linear-gradient(90deg,#efe94e 0px,#f0e950 68px,#efe747 164px,#efe53e 214px,#efe02e 252px,#f0d915 284px,#f0d60d 292px,#f0c700 326px,#f08200 396px,#f05f00 436px,#f04e00 466px,#f04700 496px,#f04800 540px,#f04b00 564px)"></div>
<div style="top:206px;height:2px;background:linear-gradient(90deg,#efe84c 0px,#efe94d 68px,#efe644 162px,#efe43c 212px,#efe02b 252px,#f0d813 284px,#f0d60d 292px,#f0c700 326px,#f07600 408px,#f05b00 442px,#f04c00 470px,#f04600 502px,#f04800 550px,#f04b00 564px)"></div>
<div style="top:208px;height:2px;background:linear-gradient(90deg,#efe849 0px,#efe84a 70px,#efe642 162px,#efe439 212px,#efdf29 252px,#f0d811 282px,#f0d50c 292px,#f0c600 324px,#f06d00 418px,#f05500 448px,#f04900 478px,#ef4500 512px,#f04900 560px,#f04a00 564px)"></div>
<div style="top:210px;height:2px;background:linear-gradient(90deg,#efe746 0px,#efe747 70px,#efe53f 162px,#efe337 212px,#efde26 252px,#f0d60d 286px,#f0c700 322px,#f06700 424px,#f05200 454px,#f04700 482px,#ef4400 520px,#f04900 564px)"></div>
<div style="top:212px;height:2px;background:linear-gradient(90deg,#efe643 0px,#efe745 72px,#efe53d 160px,#efe234 212px,#f0dd23 252px,#f0d60d 284px,#f0c600 322px,#f06400 426px,#f05000 456px,#f04600 486px,#ef4300 524px,#f04800 564px)"></div>
<div style="top:214px;height:2px;background:linear-gradient(90deg,#efe641 0px,#efe642 74px,#efe43a 160px,#efe232 212px,#f0dd21 252px,#f0d60d 280px,#f0c600 320px,#f08d00 380px,#f06000 430px,#f04d00 460px,#ef4400 488px,#ef4300 528px,#f04800 564px)"></div>
<div style="top:216px;height:2px;background:linear-gradient(90deg,#efe53e 0px,#efe53f 76px,#efe338 158px,#efe12f 212px,#f0dc1e 252px,#f0d60d 278px,#f0c700 318px,#f09800 368px,#f06200 426px,#f04e00 458px,#ef4400 486px,#ef4200 524px,#f04700 564px)"></div>
<div style="top:218px;height:2px;background:linear-gradient(90deg,#efe43c 0px,#efe53c 80px,#efe335 158px,#efe02c 212px,#f0db1b 252px,#f0d60d 276px,#f0c700 316px,#f0a100 358px,#f06200 426px,#f04e00 456px,#ef4400 484px,#ef4100 522px,#f04600 564px)"></div>
<div style="top:220px;height:2px;background:linear-gradient(90deg,#efe439 0px,#efe43a 84px,#efe232 162px,#efdf2a 212px,#f0da19 252px,#f0d60d 272px,#f0c700 314px,#f0a500 354px,#f06200 424px,#f04d00 456px,#ef4300 484px,#ef4100 522px,#f04500 564px)"></div>
<div style="top:222px;height:2px;background:linear-gradient(90deg,#efe337 0px,#efe337 88px,#efe12f 164px,#efde27 212px,#f0d916 252px,#f0d60d 268px,#f0c800 310px,#f0aa00 346px,#f06200 424px,#f04c00 456px,#ef4300 484px,#ef4000 524px,#ef4500 564px)"></div>
<div style="top:224px;height:2px;background:linear-gradient(90deg,#efe234 0px,#efe234 92px,#efe02c 174px,#f0dd24 216px,#f0d812 256px,#f0d60d 268px,#f0c800 308px,#f0ab00 344px,#f06100 424px,#f04c00 456px,#ef4200 484px,#ef4000 524px,#ef4400 564px)"></div>
<div style="top:226px;height:2px;background:linear-gradient(90deg,#efe232 0px,#efe131 98px,#efde27 192px,#f0dc1d 226px,#f0d60d 264px,#f0c800 306px,#f0ac00 342px,#f06100 424px,#f04b00 456px,#ef4100 484px,#ef3f00 524px,#ef4300 564px)"></div>
<div style="top:228px;height:2px;background:linear-gradient(90deg,#efe130 0px,#efe12e 104px,#f0dd23 200px,#f0d916 238px,#f0d60d 260px,#f0c901 302px,#f0b300 334px,#f07e00 390px,#f05b00 430px,#f04800 462px,#ef4000 492px,#ef3f00 538px,#ef4200 564px)"></div>
<div style="top:230px;height:2px;background:linear-gradient(90deg,#efe02d 0px,#efe02c 110px,#f0dc20 206px,#f0d810 246px,#f0cc04 292px,#f0c500 308px,#f0a400 350px,#f06100 422px,#f04a00 456px,#ef4000 484px,#ee3e00 522px,#ef4100 564px)"></div>
<div style="top:232px;height:2px;background:linear-gradient(90deg,#efe02b 0px,#efdf29 114px,#f0db1d 206px,#f0d60d 252px,#f0ca02 298px,#f0bc00 318px,#f08d00 374px,#f06100 422px,#f04900 456px,#ef4000 484px,#ee3d00 526px,#ef4000 564px)"></div>
<div style="top:234px;height:2px;background:linear-gradient(90deg,#efdf29 0px,#efde27 118px,#f0db1b 206px,#f0d60d 248px,#f0ca02 294px,#f0c300 308px,#f09d00 356px,#f06100 422px,#f04900 456px,#ef3f00 484px,#ee3d00 524px,#ef3f00 564px)"></div>
<div style="top:236px;height:2px;background:linear-gradient(90deg,#efde27 0px,#efde26 56px,#f0dd23 136px,#f0da18 210px,#f0d60d 244px,#f0cb03 292px,#f0c400 306px,#f0a000 350px,#f05f00 422px,#f04800 456px,#ef3e00 484px,#ee3c00 526px,#ef3f00 564px)"></div>
<div style="top:238px;height:2px;background:linear-gradient(90deg,#efde25 0px,#efde24 50px,#f0dd22 122px,#f0da17 206px,#f0d60d 240px,#f0cb03 290px,#f0c400 304px,#f0a200 348px,#f05e00 424px,#f04700 458px,#ee3e00 486px,#ee3c00 530px,#ee3e00 564px)"></div>
<div style="top:240px;height:2px;background:linear-gradient(90deg,#f0dd23 0px,#f0dd22 48px,#f0dd21 114px,#f0d916 204px,#f0d60d 238px,#f0cb03 288px,#f0c300 304px,#f0a100 348px,#f05e00 424px,#f04700 458px,#ee3d00 484px,#ee3b00 528px,#ee3d00 564px)"></div>
<div style="top:242px;height:2px;background:linear-gradient(90deg,#f0dd22 0px,#f0dc20 46px,#f0dc20 106px,#f0d915 196px,#f0d50d 236px,#f0cb03 286px,#f0c400 302px,#f0a200 346px,#f05c00 424px,#f04600 458px,#ee3d00 486px,#ee3b00 532px,#ee3c00 564px)"></div>
<div style="top:244px;height:2px;background:linear-gradient(90deg,#f0dc20 0px,#f0dc1e 46px,#f0dc1e 100px,#f0d915 188px,#f0d50c 234px,#f0ca02 286px,#f0c200 304px,#f09f00 348px,#f05c00 424px,#f04500 458px,#ee3c00 486px,#ee3b00 536px,#ee3c00 564px)"></div>
<div style="top:246px;height:2px;background:linear-gradient(90deg,#f0dc1e 0px,#f0db1c 44px,#f0db1c 96px,#f0d914 182px,#f0d40b 236px,#f0c901 288px,#f0ba00 314px,#f08f00 366px,#f05c00 424px,#ef4500 458px,#ee3c00 484px,#ee3a00 534px,#ee3b00 564px)"></div>
<div style="top:248px;height:2px;background:linear-gradient(90deg,#f0db1d 0px,#f0da1a 44px,#f0db1b 92px,#f0d913 176px,#f0d209 248px,#f0c700 292px,#f0ae00 328px,#f07600 392px,#f05200 436px,#ef4100 466px,#ee3a00 492px,#ee3a00 564px)"></div>
<div style="top:250px;height:2px;background:linear-gradient(90deg,#f0db1b 0px,#f0da18 44px,#f0da19 90px,#f0d812 176px,#f0d209 248px,#f0c700 292px,#f0af00 328px,#f07600 392px,#f05200 436px,#ef4000 466px,#ee3a00 492px,#ee3a00 564px)"></div>
<div style="top:252px;height:2px;background:linear-gradient(90deg,#f0da1a 0px,#f0da17 42px,#f0da18 86px,#f0d811 174px,#f0d109 248px,#f0c700 290px,#f0af00 326px,#f07700 392px,#f05300 434px,#ef4000 464px,#ee3a00 490px,#ee3900 564px)"></div>
<div style="top:254px;height:2px;background:linear-gradient(90deg,#f0da18 0px,#f0d915 42px,#f0da17 86px,#f0d70f 176px,#f0d108 250px,#f0c600 290px,#f0b000 324px,#f07800 390px,#f05500 432px,#ef4100 462px,#ee3a00 488px,#ee3900 564px)"></div>
<div style="top:256px;height:2px;background:linear-gradient(90deg,#f0da17 0px,#f0d914 42px,#f0d916 84px,#f0d40c 216px,#f0cb03 274px,#f0c400 294px,#f0ac00 330px,#f07300 394px,#f05000 438px,#ef3e00 468px,#ee3900 496px,#ee3800 564px)"></div>
<div style="top:258px;height:2px;background:linear-gradient(90deg,#f0d916 0px,#f0d913 44px,#f0d914 86px,#f0d40b 216px,#f0cb02 274px,#f0c300 294px,#f0ab00 330px,#f07400 394px,#f05000 436px,#ee3e00 468px,#ee3800 496px,#ee3800 564px)"></div>
<div style="top:260px;height:2px;background:linear-gradient(90deg,#f0d914 0px,#f0d813 44px,#f0d913 86px,#f0d40b 218px,#f0ca02 274px,#f0c200 294px,#f0aa00 330px,#f07300 394px,#f04f00 438px,#ee3d00 468px,#ee3800 498px,#ed3800 564px)"></div>
<div style="top:262px;height:2px;background:linear-gradient(90deg,#f0d913 0px,#f0d812 46px,#f0d812 88px,#f0d30a 218px,#f0ca02 276px,#f0be00 302px,#f0a200 340px,#f05700 428px,#ef4000 462px,#ee3900 484px,#ed3700 564px)"></div>
<div style="top:264px;height:2px;background:linear-gradient(90deg,#f0d812 0px,#f0d811 48px,#f0d811 92px,#f0d30a 220px,#f0ca01 276px,#f0bc00 304px,#f09e00 344px,#f05600 428px,#ef4000 462px,#ee3900 484px,#ed3700 564px)"></div>
<div style="top:266px;height:2px;background:linear-gradient(90deg,#f0d811 0px,#f0d811 50px,#f0d40b 206px,#f0cb03 268px,#f0c400 290px,#f0ae00 324px,#f07900 386px,#f05300 432px,#ef3f00 464px,#ee3800 490px,#ed3700 564px)"></div>
<div style="top:268px;height:2px;background:linear-gradient(90deg,#f0d810 0px,#f0d810 84px,#f0d20a 220px,#f0c901 276px,#f0b900 308px,#f09900 350px,#f05600 428px,#ef4000 462px,#ee3900 486px,#ed3700 564px)"></div>
<div style="top:270px;height:2px;background:linear-gradient(90deg,#f0d70f 0px,#f0d810 80px,#f0d209 218px,#f0c901 276px,#f0b900 308px,#f09b00 348px,#f05600 428px,#ef4000 460px,#ee3900 484px,#ed3700 564px)"></div>
<div style="top:272px;height:2px;background:linear-gradient(90deg,#f0d70e 0px,#f0d810 74px,#f0d209 218px,#f0c901 276px,#f0b900 308px,#f09a00 348px,#f05500 428px,#ef4000 462px,#ee3800 486px,#ed3600 564px)"></div>
<div style="top:274px;height:2px;background:linear-gradient(90deg,#f0d70e 0px,#f0d710 70px,#f0d209 218px,#f0c901 276px,#f0b900 308px,#f09a00 350px,#f05500 428px,#ef4000 460px,#ee3800 486px,#ed3600 564px)"></div>
<div style="top:276px;height:2px;background:linear-gradient(90deg,#f0d60d 0px,#f0d710 68px,#f0d209 216px,#f0c901 276px,#f0b800 308px,#f09900 350px,#f05500 428px,#ef4000 460px,#ee3800 486px,#ed3600 564px)"></div>
<div style="top:278px;height:2px;background:linear-gradient(90deg,#f0d60d 0px,#f0d710 66px,#f0d209 216px,#f0c900 276px,#f0b800 308px,#f09900 350px,#f05500 428px,#ef4000 460px,#ee3800 486px,#ed3600 564px)"></div>
<div style="top:280px;height:2px;background:linear-gradient(90deg,#f0d60d 0px,#f0d810 64px,#f0d50d 144px,#f0cf06 242px,#f0c600 282px,#f0b200 318px,#f08a00 368px,#f05500 428px,#ef4000 460px,#ee3800 486px,#ed3600 564px)"></div>
<div style="top:282px;height:2px;background:linear-gradient(90deg,#f0d50d 0px,#f0d810 62px,#f0d60d 134px,#f0cf07 238px,#f0c600 282px,#f0b400 316px,#f08e00 362px,#f05500 428px,#ef4100 460px,#ee3800 486px,#ed3600 564px)"></div>
<div style="top:284px;height:2px;background:linear-gradient(90deg,#f0d50c 0px,#f0d810 60px,#f0d60d 126px,#f0d007 232px,#f0c700 280px,#f0b500 314px,#f09100 360px,#f05500 428px,#ef4100 460px,#ee3900 486px,#ed3600 564px)"></div>
<div style="top:286px;height:2px;background:linear-gradient(90deg,#f0d50c 0px,#f0d810 60px,#f0d60d 122px,#f0d008 228px,#f0c700 280px,#f0b500 314px,#f09200 358px,#f05500 428px,#ef4100 460px,#ee3800 488px,#ed3600 564px)"></div>
<div style="top:288px;height:2px;background:linear-gradient(90deg,#f0d50d 0px,#f0d810 60px,#f0d60d 120px,#f0d008 224px,#f0c800 278px,#f0b600 312px,#f09400 356px,#f05500 428px,#ef4100 460px,#ee3900 488px,#ed3600 564px)"></div>
<div style="top:290px;height:2px;background:linear-gradient(90deg,#f0d60d 0px,#f0d810 60px,#f0d60d 116px,#f0d108 220px,#f0c800 278px,#f0b700 312px,#f09600 354px,#f05500 428px,#ef4100 460px,#ee3900 488px,#ed3600 564px)"></div>
<div style="top:292px;height:2px;background:linear-gradient(90deg,#f0d60d 0px,#f0d811 60px,#f0d60d 116px,#f0d108 218px,#f0c800 278px,#f0b700 310px,#f09800 352px,#f05500 428px,#ef4200 458px,#ee3900 488px,#ed3600 564px)"></div>
<div style="top:294px;height:2px;background:linear-gradient(90deg,#f0d60d 0px,#f0d811 60px,#f0d60d 114px,#f0d108 218px,#f0c800 278px,#f0b800 310px,#f09800 352px,#f05500 428px,#ef4200 458px,#ee3900 488px,#ed3600 564px)"></div>
<div style="top:296px;height:2px;background:linear-gradient(90deg,#f0d70e 0px,#f0d811 60px,#f0d60d 116px,#f0d008 222px,#f0c800 280px,#f0b600 312px,#f09500 356px,#f05500 428px,#ef4200 458px,#ee3900 488px,#ed3600 564px)"></div>
<div style="top:298px;height:2px;background:linear-gradient(90deg,#f0d70e 0px,#f0d812 60px,#f0d60d 116px,#f0d008 224px,#f0c800 280px,#f0b600 312px,#f09500 356px,#f05500 428px,#ef4300 458px,#ee3900 488px,#ed3600 564px)"></div>
<div style="top:300px;height:2px;background:linear-gradient(90deg,#f0d70f 0px,#f0d812 60px,#f0d60d 118px,#f0d007 230px,#f0c700 282px,#f0b500 316px,#f08d00 364px,#f05500 428px,#ef4300 456px,#ee3a00 486px,#ed3600 564px)"></div>
<div style="top:302px;height:2px;background:linear-gradient(90deg,#f0d710 0px,#f0d812 62px,#f0d60d 118px,#f0cf07 234px,#f0c700 282px,#f0b400 316px,#f08900 370px,#f05500 428px,#ef4300 456px,#ee3a00 488px,#ed3600 564px)"></div>
<div style="top:304px;height:2px;background:linear-gradient(90deg,#f0d811 0px,#f0d812 64px,#f0d70e 120px,#f0ce06 242px,#f0c600 284px,#f0b200 320px,#f07d00 384px,#f05600 426px,#ef4400 456px,#ee3a00 486px,#ed3500 564px)"></div>
<div style="top:306px;height:2px;background:linear-gradient(90deg,#f0d811 0px,#f0d812 66px,#f0d70e 124px,#f0cd05 250px,#f0c600 286px,#f0b100 322px,#f07800 388px,#f05400 430px,#ef4300 458px,#ee3a00 490px,#ed3500 564px)"></div>
<div style="top:308px;height:2px;background:linear-gradient(90deg,#f0d812 0px,#f0d813 68px,#f0d70e 130px,#f0cc04 258px,#f0c600 286px,#f0b000 322px,#f07700 390px,#f05400 430px,#ef4300 456px,#ee3a00 488px,#ed3500 564px)"></div>
<div style="top:310px;height:2px;background:linear-gradient(90deg,#f0d913 0px,#f0d813 70px,#f0d60d 142px,#f0cb03 264px,#f0c500 288px,#f0af00 324px,#f07700 390px,#f05400 430px,#ef4400 456px,#ee3a00 490px,#ed3500 564px)"></div>
<div style="top:312px;height:2px;background:linear-gradient(90deg,#f0d914 0px,#f0d813 72px,#f0d40b 182px,#f0c901 274px,#f0c200 294px,#f0aa00 330px,#f07600 390px,#f05400 430px,#ef4400 456px,#ee3a00 490px,#ed3500 564px)"></div>
<div style="top:314px;height:2px;background:linear-gradient(90deg,#f0d915 0px,#f0d913 76px,#f0d40b 180px,#f0c901 274px,#f0c100 296px,#f0aa00 332px,#f07600 392px,#f05400 430px,#ef4400 456px,#ee3a00 490px,#ed3500 564px)"></div>
</div>
<svg class="a" style="left:0;top:0" width="615" height="687" viewBox="0 0 615 687"><defs><clipPath id="pc"><rect x="24" y="284" width="564" height="316"/></clipPath></defs><g clip-path="url(#pc)" fill="none" stroke="rgba(0,0,0,0.5)" stroke-width="1.15"><path d="M23.0 335.8L42.5 340.2 51.8 342.0 64.0 343.5 75.5 344.2 88.5 343.7 100.5 342.3 106.0 341.2 111.0 339.9 115.0 338.4 118.5 336.7 122.0 334.5 124.5 332.4 126.8 330.0 128.9 327.0 130.2 324.5 131.2 321.5 131.9 318.0 132.1 314.5 131.8 310.5 131.2 306.5 130.1 302.5 128.8 299.0 126.2 294.0 120.5 286.1 118.6 283.0"/><path d="M23.0 397.4L33.0 398.3 46.5 399.1 73.5 399.7 84.5 399.7 93.5 399.3 102.5 398.6 111.0 397.7 142.5 392.2 151.5 390.3 159.5 388.3 167.0 385.8 174.0 383.0 181.4 379.5 190.9 374.5 197.5 370.6 203.0 366.9 208.0 363.0 212.4 359.0 216.8 354.0 222.0 347.3 225.4 342.0 227.8 337.0 229.7 331.5 231.1 325.5 231.9 319.5 232.2 313.0 231.9 306.5 231.2 300.0 228.0 283.0"/><path d="M23.0 438.0L62.0 440.1 73.5 440.3 84.5 440.2 101.0 439.1 154.5 433.5 165.0 432.0 175.0 430.2 202.5 423.6 213.5 420.4 221.9 417.5 229.2 414.5 235.5 411.4 243.5 406.5 251.5 400.4 257.0 395.5 276.5 376.9 282.5 370.4 289.0 362.5 294.4 355.0 298.3 348.5 301.0 342.5 303.0 336.0 304.4 329.0 305.2 322.0 305.5 314.0 305.2 303.5 304.5 294.5 303.0 283.0"/><path d="M23.0 473.2L62.0 474.9 70.5 475.0 82.0 474.8 93.0 474.3 127.0 472.0 163.0 470.0 183.3 468.0 195.0 466.5 210.5 464.1 219.0 462.4 228.4 460.0 238.5 457.0 248.0 453.6 256.5 449.9 264.1 446.0 271.5 441.5 277.5 437.2 283.6 432.0 289.5 426.1 304.6 408.5 323.6 388.5 337.7 372.5 349.1 358.0 353.4 352.0 356.9 346.5 361.0 339.0 363.5 333.0 365.2 326.5 366.3 319.0 366.6 312.5 366.2 306.5 362.4 283.0"/><path d="M23.0 504.4L31.0 504.4 69.0 505.4 91.0 505.2 142.0 502.9 155.0 502.0 169.0 500.7 189.0 498.5 221.0 495.4 230.0 494.0 244.0 490.5 261.0 485.3 270.5 481.9 277.0 478.7 286.5 472.8 302.3 462.0 307.5 457.9 313.0 452.8 316.8 448.5 322.0 441.6 333.9 424.5 343.7 409.5 348.0 403.7 352.4 398.5 373.5 376.0 392.5 358.6 405.1 347.5 410.4 342.0 414.4 337.0 417.4 332.0 419.6 326.5 421.0 321.0 421.5 315.0 421.2 309.0 420.2 302.5 415.3 283.0"/><path d="M588.0 285.4L581.0 286.3 576.0 287.2 564.0 291.0 554.0 293.1 545.0 295.7 536.5 297.0 531.5 297.4 526.5 296.9 520.0 295.8 515.5 294.7 510.5 292.9 505.0 290.5 500.0 287.8 496.8 285.5 494.4 283.0"/><path d="M23.0 557.6L27.5 557.7 31.0 558.3 44.3 563.0 47.4 564.5 49.0 565.6 50.1 567.0 50.4 568.5 49.9 570.5 48.0 573.0 46.2 574.5 42.9 576.5 31.7 582.0 27.5 583.2 23.0 583.8"/><path d="M160.1 600.0L157.0 598.4 152.5 596.8 146.5 595.3 135.0 592.8 128.5 590.8 124.0 588.8 115.9 584.5 108.8 580.0 105.2 577.0 103.0 574.5 101.5 572.0 100.9 569.5 101.4 567.5 102.7 565.5 104.9 563.5 107.8 561.5 111.0 559.8 114.5 558.3 123.5 555.1 127.5 554.0 132.5 553.2 152.0 550.7 175.5 546.3 204.0 540.2 218.0 536.8 227.0 534.3 236.5 531.2 244.5 528.3 266.5 518.9 278.5 513.2 290.5 506.4 300.0 500.3 308.5 494.0 320.9 483.5 326.4 478.0 330.5 472.7 346.6 450.0 353.4 439.5 361.8 425.0 364.8 420.5 375.3 407.0 378.8 403.0 382.5 399.4 404.0 381.1 412.0 374.9 418.5 370.4 425.5 366.1 433.5 361.8 449.0 354.3 465.5 345.8 484.0 337.6 503.0 330.8 512.5 328.1 518.5 326.9 523.0 326.4 532.5 326.2 540.5 326.9 556.5 329.7 578.5 334.9 584.0 335.5 588.0 335.3"/><path d="M305.4 600.0L305.4 597.0 305.0 594.0 302.5 582.5 301.8 577.5 301.3 572.0 301.3 567.0 301.9 561.0 303.1 555.0 305.1 549.0 307.7 543.5 313.3 534.5 326.5 516.0 330.9 510.5 344.4 495.5 352.0 485.4 356.3 479.0 363.4 467.5 371.2 456.0 381.1 439.0 391.4 424.0 396.2 418.0 402.1 411.5 408.5 405.2 415.0 399.4 422.0 393.9 428.9 389.0 441.0 381.6 448.0 377.7 455.5 374.4 465.5 370.6 472.0 368.6 479.5 366.8 488.0 365.3 496.5 364.2 505.5 363.5 515.0 363.1 529.5 363.2 577.5 365.1 588.0 365.0"/><path d="M347.2 600.0L345.2 573.0 345.0 565.5 345.2 559.0 345.9 551.5 347.3 544.0 349.2 537.0 351.5 530.5 353.8 525.5 356.8 519.5 369.0 498.0 376.9 481.0 396.1 448.5 399.8 443.0 404.7 437.0 415.0 425.5 422.7 418.0 431.5 410.5 437.9 405.5 445.0 400.7 451.5 396.9 459.0 393.3 466.5 390.5 472.0 388.9 482.0 386.7 491.0 385.1 502.0 383.7 511.0 383.0 521.5 382.6 533.5 382.6 552.5 383.0 588.0 384.5"/><path d="M376.6 600.0L375.2 575.5 375.1 567.5 375.2 560.0 375.9 551.5 376.8 544.5 378.2 537.5 379.9 531.5 382.3 525.5 388.0 512.7 392.8 501.0 395.1 495.0 400.4 479.0 403.0 472.5 405.4 467.5 411.0 458.1 416.0 451.0 426.4 439.0 434.4 430.5 440.9 425.0 447.5 420.0 454.0 415.6 460.0 412.2 466.5 409.3 475.5 406.2 482.5 404.2 490.5 402.5 499.0 401.1 508.0 400.1 517.0 399.5 526.0 399.2 539.5 399.3 559.0 399.9 588.0 401.6"/><path d="M405.0 600.0L403.6 584.5 403.0 574.0 402.8 564.5 403.2 556.5 404.1 547.5 405.6 538.5 407.8 529.0 410.6 519.5 423.8 486.0 428.0 477.0 431.1 471.0 434.5 465.5 438.8 459.5 448.5 447.9 455.2 439.0 459.3 434.5 462.5 431.7 467.0 428.7 472.0 426.0 477.0 423.7 482.5 421.9 489.0 420.2 495.5 419.0 503.0 417.9 518.0 416.7 535.0 416.6 578.0 418.5 588.0 419.2"/><path d="M434.5 600.0L433.7 588.5 433.5 576.0 433.7 565.0 434.5 550.5 435.2 543.5 436.3 537.5 438.5 529.0 440.9 521.0 445.5 508.0 449.7 497.5 454.0 488.4 458.6 480.0 462.8 473.5 467.0 468.1 472.5 461.9 482.5 451.4 485.6 448.5 489.0 445.9 492.5 443.7 496.0 442.1 500.0 440.9 504.5 440.0 510.0 439.2 516.0 438.7 523.0 438.6 531.0 438.7 549.5 440.0 573.5 442.8 581.0 444.0 588.0 445.6"/><path d="M472.1 600.0L471.4 594.0 471.0 587.0 470.7 563.5 471.0 556.0 471.5 550.5 472.4 545.0 473.5 539.9 475.3 534.0 477.4 528.5 480.5 521.7 483.6 516.0 487.0 510.7 490.5 506.1 494.5 501.6 498.5 497.8 503.0 494.1 507.5 491.0 511.5 488.7 516.0 486.8 520.5 485.3 525.5 484.2 530.5 483.7 536.0 483.6 542.0 483.9 548.5 484.6 556.5 486.2 563.5 487.9 570.5 490.2 577.6 493.0 582.0 495.1 588.0 498.6"/></g><g stroke="#c4c4c4" stroke-width="1"><line x1="211.5" y1="284" x2="211.5" y2="600"/><line x1="400" y1="284" x2="400" y2="600"/><line x1="24" y1="388.5" x2="588" y2="388.5"/><line x1="24" y1="495.5" x2="588" y2="495.5"/></g></svg>
<div class="ql" style="left:101.08px;top:315.7px"><i class="z">0</i><i>.</i><i class="z">0</i></div>
<div class="ql" style="left:289.38px;top:315.7px"><i>1</i><i>.</i><i class="z">0</i></div>
<div class="ql" style="left:477.48px;top:315.7px"><i>2</i><i>.</i><i>5</i></div>
<div class="ql" style="left:101.08px;top:422.2px"><i>1</i><i>.</i><i class="z">0</i></div>
<div class="ql" style="left:289.38px;top:422.2px"><i>1</i><i>.</i><i>8</i></div>
<div class="ql" style="left:477.48px;top:422.2px"><i>4</i><i>.</i><i>9</i></div>
<div class="ql" style="left:101.08px;top:528.2px"><i>2</i><i>.</i><i>5</i></div>
<div class="ql" style="left:289.38px;top:528.2px"><i>3</i><i>.</i><i class="z">0</i></div>
<div class="ql" style="left:477.48px;top:528.2px"><i>5</i><i>.</i><i>7</i></div>
<div class="a" style="left:442.5px;top:574px;font-family:'Liberation Sans',sans-serif;font-weight:bold;font-size:16.5px;line-height:20px;color:#fff;letter-spacing:0.75px;-webkit-text-stroke:0.35px #fff">datacolor</div>
<div class="a" style="left:524px;top:582px;width:54px;height:9px;background:#e41b2b"></div>
<div class="a" style="left:443px;top:592px;width:135px;height:1.8px;background:#fff"></div>
<div class="ax"><b>最</b><b>接</b><b>近</b><b>的</b><i>&nbsp;</i><i><span style="display:inline-block;transform:scaleX(0.66)">D</span></i><i>e</i><i>l</i><i>t</i><i>a</i><i>&nbsp;</i><i><span style="display:inline-block;transform:scaleX(0.78)">E</span></i></div>
<div class="a" style="left:23px;top:633px;width:565.6px;height:14px;background:linear-gradient(90deg,#ffffff 0.400px,#fafac8 28.630px,#f3f38a 56.860px,#f0ee64 85.090px,#efe43a 113.320px,#f0d70e 141.550px,#f0c800 169.780px,#f0b000 198.010px,#f09800 226.240px,#f08000 254.470px,#f06400 282.700px,#f04800 310.930px,#ec2e00 339.160px,#d61000 367.390px,#c00000 395.620px,#a00000 423.850px,#800000 452.080px,#600000 480.310px,#400000 508.540px,#200000 536.770px,#000000 565.000px)"></div>
<div class="a" style="left:22.90px;top:633px;width:1px;height:14px;background:#111"></div><div class="cb" style="left:15.80px"><i>0</i><i class="p">.</i><i>0</i></div><div class="a" style="left:51.13px;top:633px;width:1px;height:14px;background:#111"></div><div class="cb" style="left:44.03px"><i>0</i><i class="p">.</i><i>5</i></div><div class="a" style="left:79.36px;top:633px;width:1px;height:14px;background:#111"></div><div class="cb" style="left:72.26px"><i>1</i><i class="p">.</i><i>0</i></div><div class="a" style="left:107.59px;top:633px;width:1px;height:14px;background:#111"></div><div class="cb" style="left:100.49px"><i>1</i><i class="p">.</i><i>5</i></div><div class="a" style="left:135.82px;top:633px;width:1px;height:14px;background:#111"></div><div class="cb" style="left:128.72px"><i>2</i><i class="p">.</i><i>0</i></div><div class="a" style="left:164.05px;top:633px;width:1px;height:14px;background:#111"></div><div class="cb" style="left:156.95px"><i>2</i><i class="p">.</i><i>5</i></div><div class="a" style="left:192.28px;top:633px;width:1px;height:14px;background:#111"></div><div class="cb" style="left:185.18px"><i>3</i><i class="p">.</i><i>0</i></div><div class="a" style="left:220.51px;top:633px;width:1px;height:14px;background:#111"></div><div class="cb" style="left:213.41px"><i>3</i><i class="p">.</i><i>5</i></div><div class="a" style="left:248.74px;top:633px;width:1px;height:14px;background:#111"></div><div class="cb" style="left:241.64px"><i>4</i><i class="p">.</i><i>0</i></div><div class="a" style="left:276.97px;top:633px;width:1px;height:14px;background:#111"></div><div class="cb" style="left:269.87px"><i>4</i><i class="p">.</i><i>5</i></div><div class="a" style="left:305.20px;top:633px;width:1px;height:14px;background:#111"></div><div class="cb" style="left:298.10px"><i>5</i><i class="p">.</i><i>0</i></div><div class="a" style="left:333.43px;top:633px;width:1px;height:14px;background:#111"></div><div class="cb" style="left:326.33px"><i>5</i><i class="p">.</i><i>5</i></div><div class="a" style="left:361.66px;top:633px;width:1px;height:14px;background:#111"></div><div class="cb" style="left:354.56px"><i>6</i><i class="p">.</i><i>0</i></div><div class="a" style="left:389.89px;top:633px;width:1px;height:14px;background:#111"></div><div class="cb" style="left:382.79px"><i>6</i><i class="p">.</i><i>5</i></div><div class="a" style="left:418.12px;top:633px;width:1px;height:14px;background:#111"></div><div class="cb" style="left:411.02px"><i>7</i><i class="p">.</i><i>0</i></div><div class="a" style="left:446.35px;top:633px;width:1px;height:14px;background:#111"></div><div class="cb" style="left:439.25px"><i>7</i><i class="p">.</i><i>5</i></div><div class="a" style="left:474.58px;top:633px;width:1px;height:14px;background:#111"></div><div class="cb" style="left:467.48px"><i>8</i><i class="p">.</i><i>0</i></div><div class="a" style="left:502.81px;top:633px;width:1px;height:14px;background:#111"></div><div class="cb" style="left:495.71px"><i>8</i><i class="p">.</i><i>5</i></div><div class="a" style="left:531.04px;top:633px;width:1px;height:14px;background:#111"></div><div class="cb" style="left:523.94px"><i>9</i><i class="p">.</i><i>0</i></div><div class="a" style="left:559.27px;top:633px;width:1px;height:14px;background:#111"></div><div class="cb" style="left:552.17px"><i>9</i><i class="p">.</i><i>5</i></div><div class="a" style="left:587.50px;top:633px;width:1px;height:14px;background:#111"></div><div class="cb" style="left:577.80px"><i>1</i><i>0</i><i class="p">.</i><i>0</i></div>
</body></html>
